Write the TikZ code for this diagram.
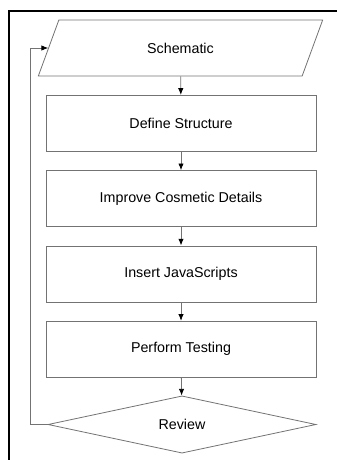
\documentclass[tikz,border=0pt]{standalone}
\usepackage{fontspec}
\setmainfont{Liberation Sans}
\usetikzlibrary{arrows.meta, shapes.geometric, positioning}

\tikzset{
  stepbox/.style={draw=black!55, line width=0.6pt, minimum width=202.5pt, minimum height=42pt, inner sep=0pt, font=\fontsize{10.7}{13}\selectfont},
  flow/.style={draw=black!55, line width=0.6pt, -{Latex[length=5pt, width=4pt, black]}}
}

\begin{document}
\begin{tikzpicture}[x=0.75pt, y=-0.75pt]
			\useasboundingbox (0,0) rectangle (337,460);
			% page frame, left and top only
			\draw[line width=2.2pt] (9,460) |- (337,11);
			\node[stepbox, trapezium, trapezium left angle=61.8, trapezium right angle=118.2, trapezium stretches=true, minimum width=213.75pt] (schem) at (180.5,48) {Schematic};
			\foreach [count=\i] \t in {Define Structure, Improve Cosmetic Details, Insert JavaScripts, Perform Testing}{
				\node[stepbox] (b\i) at (181, 48+75.3*\i) {\t};
			}
			\node[stepbox, diamond, minimum width=201pt, minimum height=41.25pt] (review) at (182,424.5) {Review};
			\draw[flow] (schem) -- (b1);
			\foreach \i [evaluate=\i as \j using int(\i+1)] in {1,2,3}{
				\draw[flow] (b\i) -- (b\j);
			}
			\draw[flow] (b4) -- (review);
			% back to the start
			\draw[flow] (review.west) -- ++(-17,0) |- (schem.west);
		\end{tikzpicture}
\end{document}
